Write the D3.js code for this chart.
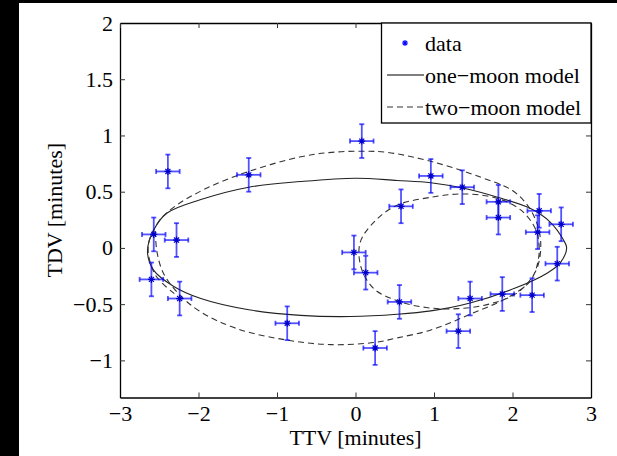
<!DOCTYPE html>
<html>
<head>
<meta charset="utf-8">
<script src="https://cdnjs.cloudflare.com/ajax/libs/d3/7.8.5/d3.min.js"></script>
<style>
    body { margin: 0; background: #000; }
    svg { display: block; }
    svg text { font-family: 'Liberation Serif', 'Times New Roman', Times, serif !important; fill: #000; }
</style>
</head>
<body>
<div id="chart"></div>
<script>
    // measured transits (minutes)
    var ttv = [0.08, -2.39, -1.36, 0.96, 1.36, 0.58, 1.82, 1.82, 2.34, 2.32, 2.62, -2.57, -2.28,
        -0.02, 0.13, 2.57, -2.60, -2.24, 0.56, 1.46, 1.87, 2.25, -0.87, 1.31, 0.25];
    var tdv = [0.95, 0.68, 0.65, 0.64, 0.54, 0.37, 0.41, 0.27, 0.33, 0.14, 0.21, 0.12, 0.07,
        -0.04, -0.22, -0.14, -0.28, -0.45, -0.48, -0.45, -0.41, -0.42, -0.67, -0.74, -0.89];
    var ttvErr = [0.15, 0.15, 0.15, 0.15, 0.15, 0.15, 0.15, 0.15, 0.15, 0.15, 0.15, 0.15, 0.15,
        0.15, 0.15, 0.15, 0.15, 0.15, 0.15, 0.15, 0.15, 0.15, 0.15, 0.15, 0.15];
    var tdvErr = [0.15, 0.15, 0.15, 0.15, 0.15, 0.15, 0.15, 0.15, 0.15, 0.15, 0.15, 0.15, 0.15,
        0.15, 0.15, 0.15, 0.15, 0.15, 0.15, 0.15, 0.15, 0.15, 0.15, 0.15, 0.15];

    // model curves [ttv, tdv]
    var oneMoonModel = [
        [-2.65, -0.03], [-2.57, 0.16], [-2.40, 0.31], [-1.97, 0.43], [-1.36, 0.54], [-0.70, 0.59],
        [0.00, 0.62], [0.53, 0.60], [0.96, 0.58], [1.38, 0.53], [1.81, 0.45], [2.23, 0.35],
        [2.48, 0.23], [2.65, 0.07], [2.69, 0.00], [2.61, -0.13], [2.45, -0.22], [2.06, -0.35],
        [1.46, -0.49], [0.96, -0.56], [0.53, -0.59], [-0.06, -0.61], [-0.70, -0.60], [-1.36, -0.55],
        [-1.97, -0.45], [-2.32, -0.34], [-2.57, -0.20]
    ];
    var twoMoonModel = [
        [-2.55, 0.15], [-2.53, -0.03], [-2.45, -0.22], [-2.25, -0.41], [-1.97, -0.57], [-1.50, -0.72],
        [-0.87, -0.82], [-0.30, -0.86], [0.25, -0.84], [0.53, -0.80], [0.96, -0.73], [1.46, -0.59],
        [1.97, -0.43], [2.23, -0.29], [2.33, -0.10], [2.33, 0.08], [2.27, 0.20], [2.10, 0.34],
        [1.81, 0.44], [1.38, 0.48], [0.96, 0.45], [0.53, 0.38], [0.25, 0.24], [0.06, 0.05],
        [0.07, -0.17], [0.23, -0.36], [0.53, -0.47], [0.90, -0.53], [1.30, -0.54], [1.70, -0.50],
        [2.06, -0.40], [2.30, -0.20], [2.36, 0.01], [2.32, 0.20], [2.20, 0.37], [2.00, 0.51],
        [1.59, 0.63], [0.96, 0.77], [0.40, 0.85], [0.08, 0.86], [-0.30, 0.85], [-0.70, 0.81],
        [-1.36, 0.68], [-1.90, 0.53], [-2.30, 0.37], [-2.50, 0.24], [-2.64, 0.02], [-2.55, -0.24],
        [-2.30, -0.41]
    ];

    var xTicks = [-3, -2, -1, 0, 1, 2, 3];
    var yTicks = [-1, -0.5, 0, 0.5, 1, 1.5, 2];
    var legendLabels = ['data', 'one\u2212moon model', 'two\u2212moon model'];

    var width = 617;
    var height = 456;
    var plotLeft = 120, plotRight = 591, plotTop = 23, plotBottom = 397.5;
    var fontSize = 22;
    var fontFamily = "'Liberation Serif', 'Times New Roman', Times, serif";
    var blue = '#0000ff';

    var svg = d3.select('#chart').append('svg')
        .attr('width', width)
        .attr('height', height);

    svg.append('rect').attr('width', width).attr('height', height).attr('fill', '#000');
    svg.append('rect').attr('x', 19).attr('y', 3).attr('width', width - 19).attr('height', height - 3).attr('fill', '#fff');

    var x = d3.scaleLinear().domain([-3, 3]).range([plotLeft, plotRight]);
    var y = d3.scaleLinear().domain([-1.33, 2]).range([plotBottom, plotTop]);

    var fmt = function (d) { return d3.format('')(d); };

    var axes = svg.append('g').attr('class', 'axes');

    axes.append('g')
        .attr('transform', 'translate(0,' + plotBottom + ')')
        .call(d3.axisBottom(x).tickValues(xTicks).tickSizeInner(-5).tickSizeOuter(0).tickPadding(8).tickFormat(fmt));
    axes.append('g')
        .attr('transform', 'translate(' + plotLeft + ',0)')
        .call(d3.axisLeft(y).tickValues(yTicks).tickSizeInner(-5).tickSizeOuter(0).tickPadding(7).tickFormat(fmt));
    axes.append('g')
        .attr('transform', 'translate(0,' + plotTop + ')')
        .call(d3.axisTop(x).tickValues(xTicks).tickSizeInner(-5).tickSizeOuter(0).tickFormat(''));
    axes.append('g')
        .attr('transform', 'translate(' + plotRight + ',0)')
        .call(d3.axisRight(y).tickValues(yTicks).tickSizeInner(-5).tickSizeOuter(0).tickFormat(''));

    axes.selectAll('g').attr('font-family', fontFamily).attr('font-size', fontSize);
    axes.selectAll('text')
        .style('font-family', fontFamily)
        .attr('font-size', fontSize)
        .attr('fill', '#000');
    axes.selectAll('path.domain').attr('stroke', '#000').attr('stroke-width', 1.3);
    axes.selectAll('.tick line').attr('stroke', '#333').attr('stroke-width', 1);

    // axis titles
    svg.append('text')
        .text('TTV [minutes]')
        .attr('x', (plotLeft + plotRight) / 2)
        .attr('y', 445)
        .attr('text-anchor', 'middle')
        .style('font-family', fontFamily)
        .attr('font-size', fontSize);

    svg.append('text')
        .text('TDV [minutes]')
        .attr('transform', 'translate(62,' + ((plotTop + plotBottom) / 2) + ') rotate(-90)')
        .attr('text-anchor', 'middle')
        .style('font-family', fontFamily)
        .attr('font-size', fontSize);

    // model curves
    var plot = svg.append('g').attr('class', 'plot');

    var lineClosed = d3.line()
        .x(function (d) { return x(d[0]); })
        .y(function (d) { return y(d[1]); })
        .curve(d3.curveCatmullRomClosed.alpha(0.5));
    var lineOpen = d3.line()
        .x(function (d) { return x(d[0]); })
        .y(function (d) { return y(d[1]); })
        .curve(d3.curveCatmullRom.alpha(0.5));

    plot.append('path')
        .attr('d', lineClosed(oneMoonModel))
        .attr('fill', 'none')
        .attr('stroke', '#222')
        .attr('stroke-width', 1.1);

    plot.append('path')
        .attr('d', lineOpen(twoMoonModel))
        .attr('fill', 'none')
        .attr('stroke', '#333')
        .attr('stroke-width', 1.1)
        .attr('stroke-dasharray', '6,4');

    // data with error bars
    var data = ttv.map(function (t, i) {
        return { t: t, d: tdv[i], et: ttvErr[i], ed: tdvErr[i] };
    });

    var pts = plot.selectAll('.pt')
        .data(data)
        .enter()
        .append('g')
        .attr('class', 'pt')
        .attr('stroke', blue)
        .attr('stroke-opacity', 0.68)
        .attr('stroke-width', 1.8);

    pts.append('line')
        .attr('x1', function (d) { return x(d.t - d.et); })
        .attr('x2', function (d) { return x(d.t + d.et); })
        .attr('y1', function (d) { return y(d.d); })
        .attr('y2', function (d) { return y(d.d); });
    pts.append('line')
        .attr('x1', function (d) { return x(d.t); })
        .attr('x2', function (d) { return x(d.t); })
        .attr('y1', function (d) { return y(d.d - d.ed); })
        .attr('y2', function (d) { return y(d.d + d.ed); });
    // caps
    [-1, 1].forEach(function (s) {
        pts.append('line')
            .attr('x1', function (d) { return x(d.t + s * d.et); })
            .attr('x2', function (d) { return x(d.t + s * d.et); })
            .attr('y1', function (d) { return y(d.d) - 2.5; })
            .attr('y2', function (d) { return y(d.d) + 2.5; });
        pts.append('line')
            .attr('x1', function (d) { return x(d.t) - 2.5; })
            .attr('x2', function (d) { return x(d.t) + 2.5; })
            .attr('y1', function (d) { return y(d.d + s * d.ed); })
            .attr('y2', function (d) { return y(d.d + s * d.ed); });
    });

    function star(cx, cy, r) {
        var a = r * 0.72;
        return 'M' + (cx - r) + ',' + cy + 'H' + (cx + r) +
            'M' + cx + ',' + (cy - r) + 'V' + (cy + r) +
            'M' + (cx - a) + ',' + (cy - a) + 'L' + (cx + a) + ',' + (cy + a) +
            'M' + (cx - a) + ',' + (cy + a) + 'L' + (cx + a) + ',' + (cy - a);
    }

    plot.selectAll('.marker')
        .data(data)
        .enter()
        .append('path')
        .attr('class', 'marker')
        .attr('d', function (d) { return star(x(d.t), y(d.d), 3.5); })
        .attr('stroke', '#0000cc')
        .attr('stroke-width', 1.2)
        .attr('fill', 'none');

    // legend
    var legend = svg.append('g').attr('class', 'legend');
    legend.append('rect')
        .attr('x', 381.5)
        .attr('y', plotTop)
        .attr('width', plotRight - 381.5)
        .attr('height', 100)
        .attr('fill', '#fff')
        .attr('stroke', '#000')
        .attr('stroke-width', 1.3);

    var rowY = [43, 75, 107];
    legend.append('path')
        .attr('d', star(405, rowY[0], 3))
        .attr('stroke', blue)
        .attr('stroke-width', 1.1)
        .attr('fill', 'none');
    legend.append('line')
        .attr('x1', 387).attr('x2', 424)
        .attr('y1', rowY[1]).attr('y2', rowY[1])
        .attr('stroke', '#000').attr('stroke-width', 1.1);
    legend.append('line')
        .attr('x1', 387).attr('x2', 424)
        .attr('y1', rowY[2]).attr('y2', rowY[2])
        .attr('stroke', '#333').attr('stroke-width', 1.1)
        .attr('stroke-dasharray', '6,4');

    legend.selectAll('.legText')
        .data(legendLabels)
        .enter()
        .append('text')
        .attr('class', 'legText')
        .text(function (d) { return d; })
        .attr('x', 425)
        .attr('y', function (d, i) { return rowY[i] + 7.5; })
        .style('font-family', fontFamily)
        .attr('font-size', fontSize);
</script>
</body>
</html>
